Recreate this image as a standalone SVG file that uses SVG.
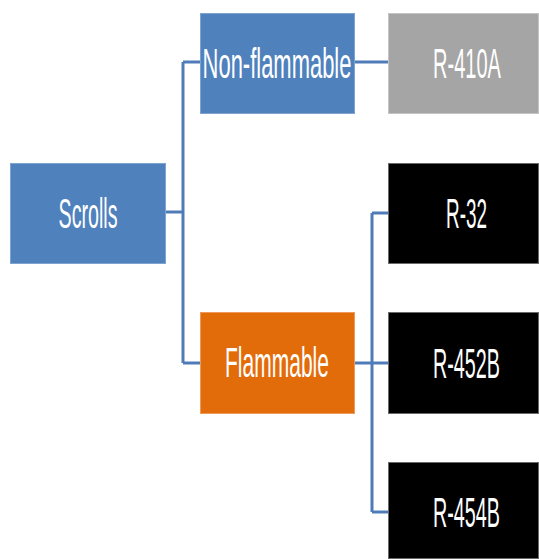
<svg xmlns="http://www.w3.org/2000/svg" width="539" height="559" viewBox="0 0 539 559">
  <style>
    .box { stroke-width: 1; }
    .blue { fill: #4f81bd; stroke: #7ea3d0; }
    .orange { fill: #e36c0a; stroke: #f09a5a; }
    .grey { fill: #a5a5a5; stroke: #c4c4c4; }
    .black { fill: #000000; stroke: #6a6a6a; }
    .label { fill: #ffffff; font-family: "Liberation Sans", Arial, sans-serif; font-size: 43px; text-anchor: middle; }
    .link { fill: none; stroke: #4f7cb9; stroke-width: 3; }
  </style>
  <rect width="539" height="559" fill="#ffffff"/>

  <g id="connectors">
    <path class="link" d="M166,212 H183 M183,62 V363 M183,62 H200 M183,363 H200"/>
    <path class="link" d="M355,62 H388"/>
    <path class="link" d="M355,363 H388 M372,213 V512 M372,213 H388 M372,512 H388"/>
  </g>

  <!-- labels are set in a condensed face: horizontal scale on a regular sans -->
  <g id="scrolls">
    <rect class="box blue" x="10.5" y="163.5" width="155" height="100"/>
    <text class="label" transform="translate(88,228) scale(0.457,1)">Scrolls</text>
  </g>
  <g id="non-flammable">
    <rect class="box blue" x="200.5" y="13.5" width="154" height="100"/>
    <text class="label" transform="translate(277,78) scale(0.511,1)">Non-flammable</text>
  </g>
  <g id="flammable">
    <rect class="box orange" x="200.5" y="312.5" width="154" height="101"/>
    <text class="label" transform="translate(277,377) scale(0.489,1)">Flammable</text>
  </g>
  <g id="r410a">
    <rect class="box grey" x="388.5" y="13.5" width="150" height="100"/>
    <text class="label" transform="translate(467,78) scale(0.466,1)">R-410A</text>
  </g>
  <g id="r32">
    <rect class="box black" x="388.5" y="163.5" width="150" height="100"/>
    <text class="label" transform="translate(466.5,228) scale(0.44,1)">R-32</text>
  </g>
  <g id="r452b">
    <rect class="box black" x="388.5" y="312.5" width="150" height="101"/>
    <text class="label" transform="translate(466.5,378) scale(0.46,1)">R-452B</text>
  </g>
  <g id="r454b">
    <rect class="box black" x="388.5" y="462.5" width="150" height="96"/>
    <text class="label" transform="translate(466.5,527) scale(0.46,1)">R-454B</text>
  </g>
</svg>
